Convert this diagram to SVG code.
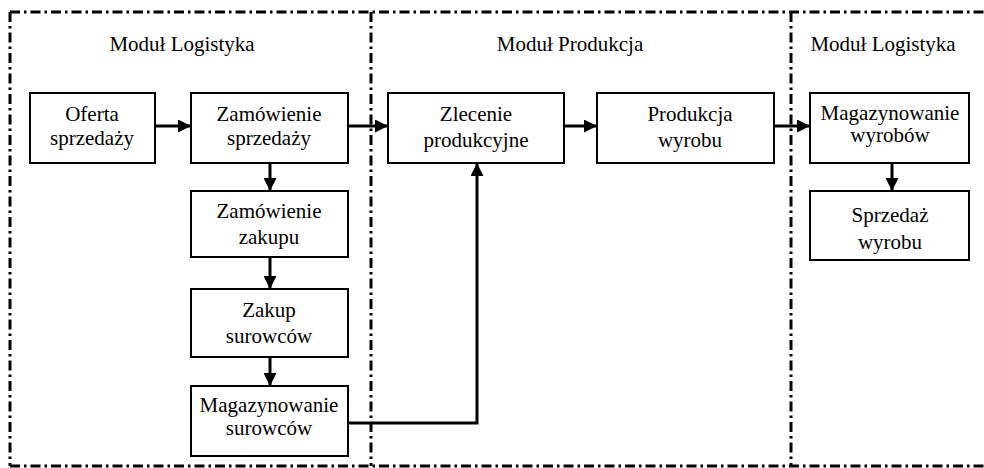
<svg xmlns="http://www.w3.org/2000/svg" width="984" height="468" viewBox="0 0 984 468">
<style>
.frame{fill:none;stroke:#000;stroke-width:3;stroke-dasharray:10 4 2.5 4}
.box rect{fill:#fff;stroke:#000;stroke-width:2}
text{font-family:'Liberation Serif','Times New Roman','DejaVu Serif',serif;font-size:21px;fill:#000;text-anchor:middle}
.conn{fill:none;stroke:#000;stroke-width:3}
</style>
<defs>
<marker id="ah" viewBox="0 0 13 13" refX="13" refY="6.5" markerWidth="13" markerHeight="13" markerUnits="userSpaceOnUse" orient="auto">
<path d="M0,0 L13,6.5 L0,13 Z" fill="#000"/>
</marker>
</defs>
<g id="frames">
<line class="frame" x1="10" y1="12" x2="984" y2="12"/>
<line class="frame" x1="10" y1="466" x2="984" y2="466"/>
<line class="frame" x1="10" y1="12" x2="10" y2="466"/>
<line class="frame" x1="371" y1="12" x2="371" y2="466"/>
<line class="frame" x1="791" y1="12" x2="791" y2="466"/>
</g>
<g id="labels">
<text x="182" y="51">Moduł Logistyka</text>
<text x="570" y="51">Moduł Produkcja</text>
<text x="883" y="51">Moduł Logistyka</text>
</g>
<g id="connectors">
<line class="conn" x1="155" y1="126" x2="191" y2="126" marker-end="url(#ah)"/>
<line class="conn" x1="348" y1="126" x2="388" y2="126" marker-end="url(#ah)"/>
<line class="conn" x1="564" y1="126" x2="597" y2="126" marker-end="url(#ah)"/>
<line class="conn" x1="774" y1="126" x2="810" y2="126" marker-end="url(#ah)"/>
<line class="conn" x1="270" y1="163" x2="270" y2="191" marker-end="url(#ah)"/>
<line class="conn" x1="270" y1="257" x2="270" y2="289" marker-end="url(#ah)"/>
<line class="conn" x1="270" y1="357" x2="270" y2="386" marker-end="url(#ah)"/>
<polyline class="conn" points="348,423 477,423 477,163" marker-end="url(#ah)"/>
<line class="conn" x1="892" y1="163" x2="892" y2="191" marker-end="url(#ah)"/>
</g>
<g id="oferta" class="box"><rect x="30" y="93" width="125" height="70"/><text x="92" y="121">Oferta</text><text x="92" y="145">sprzedaży</text></g>
<g id="zam-sprzedazy" class="box"><rect x="191" y="93" width="157" height="70"/><text x="269" y="121">Zamówienie</text><text x="269" y="145">sprzedaży</text></g>
<g id="zam-zakupu" class="box"><rect x="191" y="191" width="157" height="66"/><text x="269" y="218">Zamówienie</text><text x="269" y="244">zakupu</text></g>
<g id="zakup-surowcow" class="box"><rect x="191" y="289" width="157" height="68"/><text x="269" y="317">Zakup</text><text x="269" y="343">surowców</text></g>
<g id="mag-surowcow" class="box"><rect x="191" y="386" width="157" height="70"/><text x="269" y="412">Magazynowanie</text><text x="269" y="435">surowców</text></g>
<g id="zlecenie" class="box"><rect x="388" y="93" width="176" height="70"/><text x="476" y="121">Zlecenie</text><text x="476" y="147">produkcyjne</text></g>
<g id="produkcja" class="box"><rect x="597" y="93" width="177" height="70"/><text x="690" y="121">Produkcja</text><text x="690" y="147">wyrobu</text></g>
<g id="mag-wyrobow" class="box"><rect x="810" y="93" width="159" height="70"/><text x="890" y="120">Magazynowanie</text><text x="890" y="142">wyrobów</text></g>
<g id="sprzedaz" class="box"><rect x="810" y="191" width="159" height="69"/><text x="890" y="222">Sprzedaż</text><text x="890" y="249">wyrobu</text></g>
</svg>
